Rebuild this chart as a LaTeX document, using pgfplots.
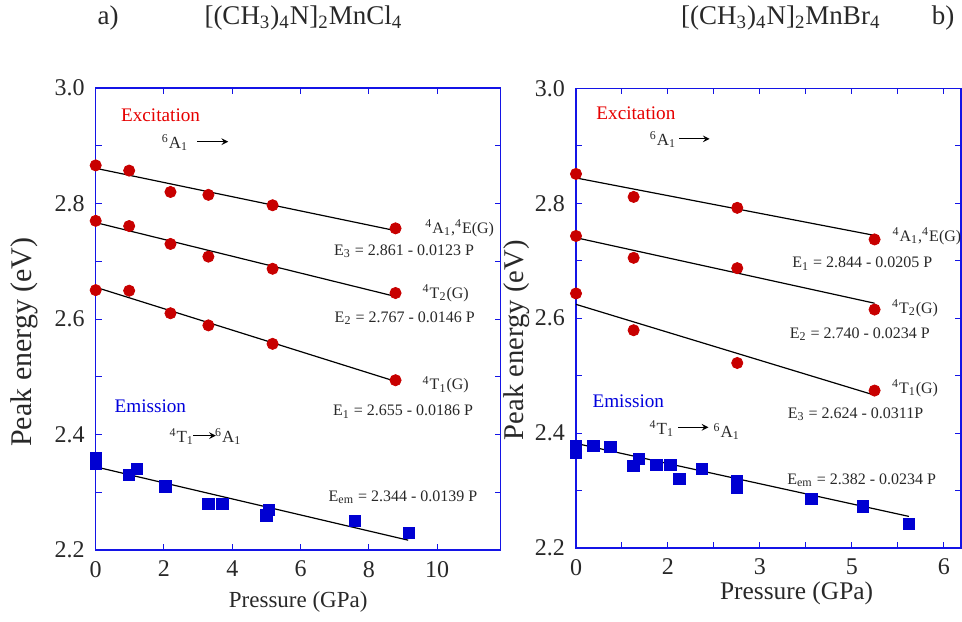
\documentclass[border=0pt]{standalone}
\usepackage{pgfplots}
\pgfplotsset{compat=1.18}
\usepackage{fontspec}
\setmainfont{Liberation Serif}
\definecolor{axblue}{RGB}{20,20,230}
\definecolor{mred}{RGB}{200,0,0}
\definecolor{mblue}{RGB}{0,0,210}
\definecolor{txtred}{RGB}{230,0,0}
\definecolor{txtblue}{RGB}{0,0,220}
\definecolor{txtgray}{RGB}{40,40,40}
\newcommand{\fs}[1]{\fontsize{#1}{#1}\selectfont}
\pgfplotsset{
 myaxis/.style={
  scale only axis, clip=false,
  axis line style={axblue, line width=0.6pt},
  every tick/.style={axblue, line width=0.5pt},
  tick align=inside,
  major tick length=3pt, minor tick length=3pt,
  ymin=2.2, ymax=3.0,
  ytick={2.2,2.4,2.6,2.8,3.0},
  yticklabels={2.2,2.4,2.6,2.8,3.0},
  minor ytick={2.3,2.5,2.7,2.9},
  ticklabel style={font=\fs{12}, text=txtgray},
  yticklabel style={xshift=-2pt},
  xticklabel style={yshift=-2pt},
  fitline/.style={black, line width=0.6pt, no marks},
  exc/.style={only marks, mark=*, mark size=2.8pt, mark options={fill=mred, draw=mred}},
  emi/.style={only marks, mark=square*, mark size=2.8pt, mark options={fill=mblue, draw=mblue}},
 }
}
\begin{document}
\begin{tikzpicture}[x=1pt,y=1pt]
\useasboundingbox (0,0) rectangle (481,-310.5);
\node[font=\fs{13.5}, text=txtgray] at (54,-9) {a)};
\node[font=\fs{13.5}, text=txtgray] at (151.7,-9) {[(CH\textsubscript{3})\textsubscript{4}N]\textsubscript{2}MnCl\textsubscript{4}};
\node[font=\fs{13.5}, text=txtgray] at (390.4,-9) {[(CH\textsubscript{3})\textsubscript{4}N]\textsubscript{2}MnBr\textsubscript{4}};
\node[font=\fs{13.5}, text=txtgray] at (471.5,-9) {b)};

% ---------------- left ----------------
\begin{axis}[myaxis, at={(47.85pt,-275pt)}, anchor=south west,
  width=202.5pt, height=231pt,
  xmin=0, xmax=11.86, xtick={0,2,4,6,8,10}, xticklabels={0,2,4,6,8,10},
  xlabel={Pressure (GPa)}, ylabel={Peak energy (eV)},
  xlabel style={font=\fs{11.5}, text=txtgray, at={(axis description cs:0.5,-0.1126)}, anchor=center},
  ylabel style={font=\fs{15}, text=txtgray, at={(axis description cs:-0.175,0.45)}, anchor=center},
]
\addplot[fitline] coordinates {(0,2.861) (8.78,2.753)};
\addplot[fitline] coordinates {(0,2.767) (8.78,2.639)};
\addplot[fitline] coordinates {(0,2.655) (8.78,2.492)};
\addplot[fitline] coordinates {(0,2.344) (9.15,2.217)};
\addplot[exc] coordinates {(0,2.866) (0.98,2.857) (2.19,2.820) (3.30,2.815) (5.18,2.797) (8.78,2.757)};
\addplot[exc] coordinates {(0,2.770) (0.98,2.761) (2.19,2.730) (3.30,2.708) (5.18,2.687) (8.78,2.645)};
\addplot[exc] coordinates {(0,2.650) (0.98,2.649) (2.19,2.610) (3.30,2.589) (5.18,2.557) (8.78,2.494)};
\addplot[emi] coordinates {(0,2.360) (0,2.350) (0.98,2.330) (1.20,2.340) (2.04,2.310) (3.30,2.280) (3.71,2.280) (5.00,2.260) (5.08,2.269) (7.60,2.250) (9.18,2.229)};
\node[font=\fs{9.6}, text=txtred] at (axis cs:1.90,2.952) {Excitation};
\node[font=\fs{8.5}, text=txtgray] at (axis cs:2.32,2.905) {\textsuperscript{6}A\textsubscript{1}};
\draw[-stealth, line width=0.5pt] (axis cs:2.97,2.907) -- (axis cs:3.88,2.907);
\node[font=\fs{8}, text=txtgray, anchor=west] at (axis cs:9.45,2.757) {\textsuperscript{4}A\textsubscript{1},\textsuperscript{4}E(G)};
\node[font=\fs{8}, text=txtgray] at (axis cs:9.03,2.717) {E\textsubscript{3} = 2.861 - 0.0123 P};
\node[font=\fs{8}, text=txtgray] at (axis cs:10.25,2.645) {\textsuperscript{4}T\textsubscript{2}(G)};
\node[font=\fs{8}, text=txtgray] at (axis cs:9.05,2.601) {E\textsubscript{2} = 2.767 - 0.0146 P};
\node[font=\fs{8}, text=txtgray] at (axis cs:10.25,2.486) {\textsuperscript{4}T\textsubscript{1}(G)};
\node[font=\fs{8}, text=txtgray] at (axis cs:9.0,2.4395) {E\textsubscript{1} = 2.655 - 0.0186 P};
\node[font=\fs{9.6}, text=txtblue] at (axis cs:1.60,2.449) {Emission};
\node[font=\fs{8.5}, text=txtgray] at (axis cs:2.52,2.396) {\textsuperscript{4}T\textsubscript{1}};
\draw[-stealth, line width=0.5pt] (axis cs:2.86,2.398) -- (axis cs:3.52,2.398);
\node[font=\fs{8.5}, text=txtgray] at (axis cs:3.88,2.396) {\textsuperscript{6}A\textsubscript{1}};
\node[font=\fs{8}, text=txtgray] at (axis cs:9.0,2.292) {E\textsubscript{em} = 2.344 - 0.0139 P};
\end{axis}

% ---------------- right ----------------
\begin{axis}[myaxis, at={(288pt,-274pt)}, anchor=south west,
  width=192.5pt, height=229.85pt,
  xmin=0, xmax=6.28, xtick={0,1.5,3,4.5,6}, xticklabels={0,2,3,5,6},
  minor xtick={0.75,2.25,3.75,5.25},
  xlabel={Pressure (GPa)}, ylabel={Peak energy (eV)},
  xlabel style={font=\fs{12.7}, text=txtgray, at={(axis description cs:0.573,-0.0985)}, anchor=center},
  ylabel style={font=\fs{14.3}, text=txtgray, at={(axis description cs:-0.153,0.452)}, anchor=center},
]
\addplot[fitline] coordinates {(0,2.844) (4.87,2.744)};
\addplot[fitline] coordinates {(0,2.740) (4.87,2.626)};
\addplot[fitline] coordinates {(0,2.624) (4.87,2.466)};
\addplot[fitline] coordinates {(0,2.382) (5.43,2.255)};
\addplot[exc] coordinates {(0,2.851) (0.94,2.811) (2.63,2.792) (4.87,2.737)};
\addplot[exc] coordinates {(0,2.743) (0.94,2.705) (2.63,2.687) (4.87,2.615)};
\addplot[exc] coordinates {(0,2.643) (0.94,2.579) (2.63,2.522) (4.87,2.474)};
\addplot[emi] coordinates {(0,2.378) (0,2.365) (0.283,2.3775) (0.56,2.376) (0.935,2.343) (1.03,2.355) (1.31,2.344) (1.54,2.344) (1.685,2.320) (2.055,2.337) (2.62,2.317) (2.62,2.304) (3.84,2.285) (4.68,2.2725) (5.43,2.242)};
\node[font=\fs{9.6}, text=txtred] at (axis cs:0.977,2.956) {Excitation};
\node[font=\fs{8.5}, text=txtgray] at (axis cs:1.42,2.910) {\textsuperscript{6}A\textsubscript{1}};
\draw[-stealth, line width=0.5pt] (axis cs:1.68,2.912) -- (axis cs:2.18,2.912);
\node[font=\fs{8}, text=txtgray, anchor=west] at (axis cs:5.05,2.743) {\textsuperscript{4}A\textsubscript{1},\textsuperscript{4}E(G)};
\node[font=\fs{8}, text=txtgray] at (axis cs:4.67,2.695) {E\textsubscript{1} = 2.844 - 0.0205 P};
\node[font=\fs{8}, text=txtgray] at (axis cs:5.53,2.617) {\textsuperscript{4}T\textsubscript{2}(G)};
\node[font=\fs{8}, text=txtgray] at (axis cs:4.63,2.572) {E\textsubscript{2} = 2.740 - 0.0234 P};
\node[font=\fs{8}, text=txtgray] at (axis cs:5.53,2.478) {\textsuperscript{4}T\textsubscript{1}(G)};
\node[font=\fs{8}, text=txtgray] at (axis cs:4.56,2.433) {E\textsubscript{3} = 2.624 - 0.0311P};
\node[font=\fs{9.6}, text=txtblue] at (axis cs:0.853,2.4546) {Emission};
\node[font=\fs{8.5}, text=txtgray] at (axis cs:1.40,2.408) {\textsuperscript{4}T\textsubscript{1}};
\draw[-stealth, line width=0.5pt] (axis cs:1.67,2.410) -- (axis cs:2.16,2.410);
\node[font=\fs{8.5}, text=txtgray] at (axis cs:2.46,2.402) {\textsuperscript{6}A\textsubscript{1}};
\node[font=\fs{8}, text=txtgray] at (axis cs:4.66,2.318) {E\textsubscript{em} = 2.382 - 0.0234 P};
\end{axis}
\end{tikzpicture}
\end{document}
